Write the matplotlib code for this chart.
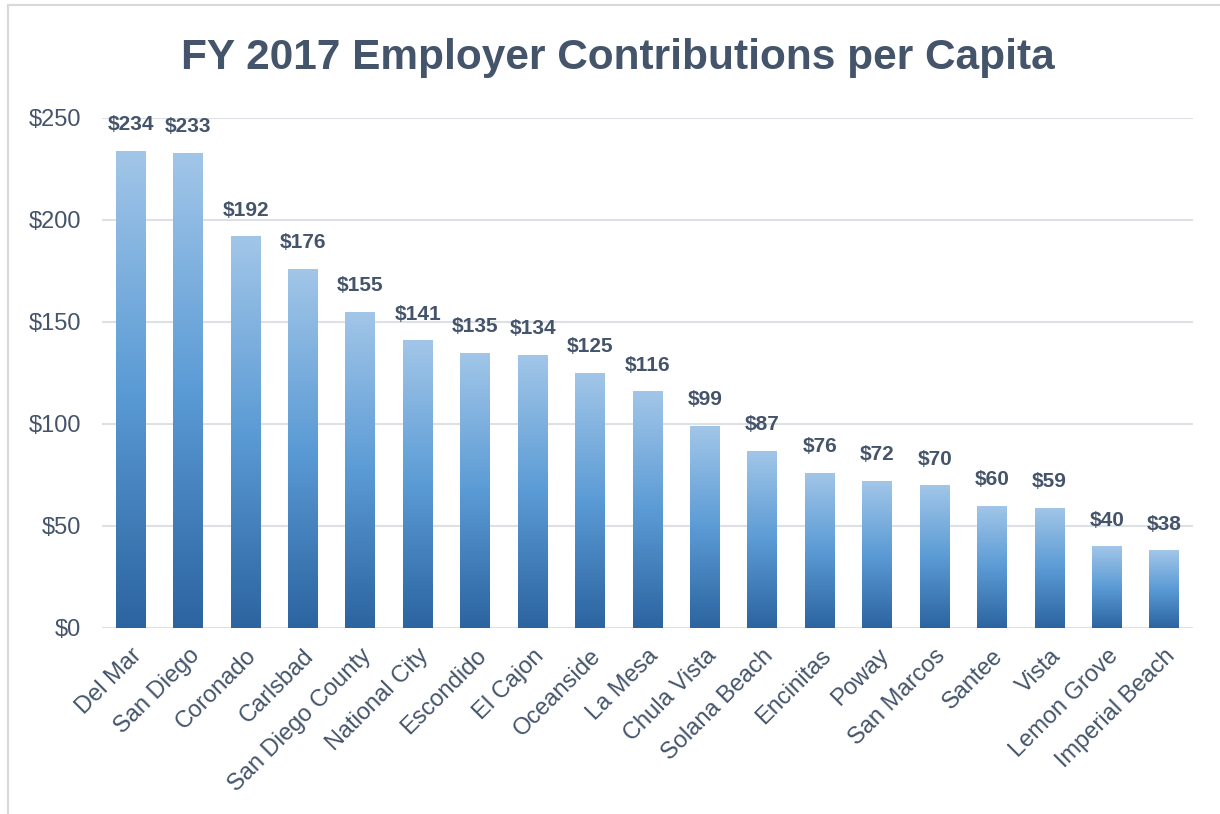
import matplotlib
matplotlib.use("Agg")
import matplotlib.pyplot as plt
import numpy as np
from matplotlib.colors import LinearSegmentedColormap
from matplotlib.lines import Line2D

cities = ["Del Mar", "San Diego", "Coronado", "Carlsbad", "San Diego County",
          "National City", "Escondido", "El Cajon", "Oceanside", "La Mesa",
          "Chula Vista", "Solana Beach", "Encinitas", "Poway", "San Marcos",
          "Santee", "Vista", "Lemon Grove", "Imperial Beach"]
values = [234, 233, 192, 176, 155, 141, 135, 134, 125, 116, 99, 87, 76, 72, 70,
          60, 59, 40, 38]
yticks = [0, 50, 100, 150, 200, 250]
title = "FY 2017 Employer Contributions per Capita"

plt.rcParams['font.family'] = ['Liberation Sans', 'DejaVu Sans']
txt = "#44546A"
grid = "#DDE1E6"

fig = plt.figure(figsize=(12.2, 8.14), dpi=100)
ax = fig.add_axes([102/1220, 1-628/814, (1193-102)/1220, (628-118)/814])

cmap = LinearSegmentedColormap.from_list(
    "g", [(0, "#2C64A0"), (0.5, "#5B9BD5"), (1.0, "#A2C6E8")])
grad = np.linspace(0, 1, 256).reshape(-1, 1)

x = np.arange(len(cities))
bars = ax.bar(x, values, width=0.52, color="none", edgecolor="none", zorder=3)
for b in bars:
    x0, w, h = b.get_x(), b.get_width(), b.get_height()
    im = ax.imshow(grad, cmap=cmap, origin="lower", aspect="auto",
                   extent=[x0, x0 + w, 0, h], zorder=3, interpolation="bicubic")
    im.set_clip_path(b)

for xi, v in zip(x, values):
    ax.annotate(f"${v}", (xi, v), xytext=(0, 12), textcoords="offset points",
                ha="center", va="bottom", fontsize=15, fontweight="bold",
                color=txt)

ax.set_xlim(-0.5, len(cities) - 0.5)
ax.set_ylim(0, 250)
ax.set_yticks(yticks)
ax.set_yticklabels([f"${t}" for t in yticks], fontsize=17, color=txt)
ax.set_xticks(x)
ax.set_xticklabels(cities, rotation=45, ha="right", rotation_mode="anchor",
                   fontsize=17, color=txt)
ax.tick_params(axis="both", length=0)
ax.tick_params(axis="y", pad=15)
ax.tick_params(axis="x", pad=12)
for s in ax.spines.values():
    s.set_visible(False)
ax.yaxis.grid(True, color=grid, linewidth=1.5, zorder=0)
ax.set_axisbelow(True)

fig.text(618/1220, 1-58/814, title, ha="center", va="center",
         fontsize=30.5, fontweight="bold", color=txt)

# chart border
fig.add_artist(Line2D([8/1220, 8/1220], [0, 1-5/814], transform=fig.transFigure,
                      color="#D9D9D9", linewidth=1.5))
fig.add_artist(Line2D([8/1220, 1], [1-5/814, 1-5/814], transform=fig.transFigure,
                      color="#D9D9D9", linewidth=1.5))

fig.savefig("out.png", dpi=100)
